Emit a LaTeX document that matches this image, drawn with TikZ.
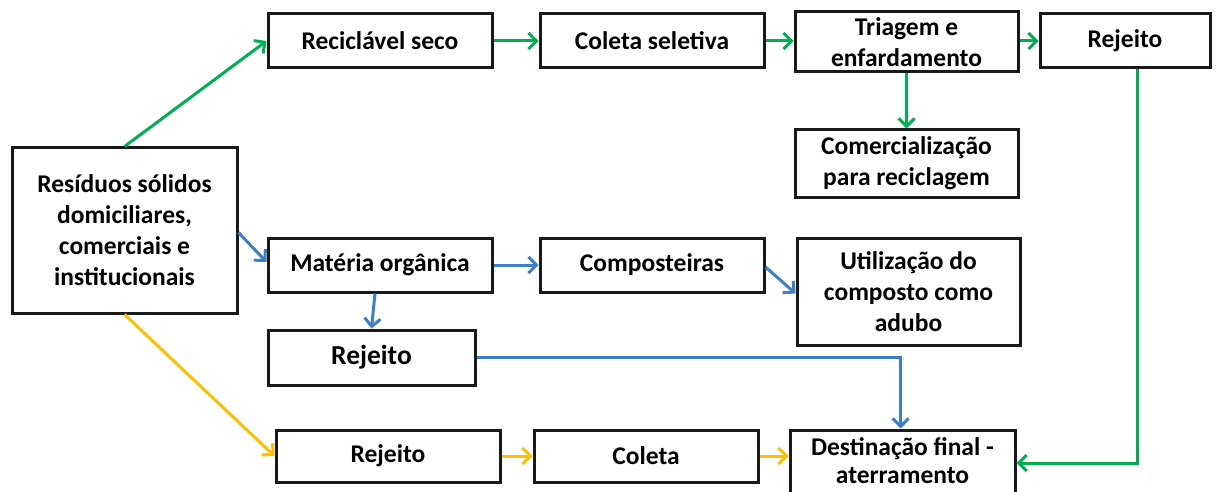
\documentclass[tikz,border=0pt]{standalone}
\usepackage{fontspec}
\setmainfont{Carlito}
\usetikzlibrary{arrows.meta,calc}
\definecolor{cgreen}{HTML}{00B050}
\definecolor{cblue}{HTML}{3F7FC6}
\definecolor{cyellow}{HTML}{FFC000}
\tikzset{
  box/.style={draw=black!90, line width=3pt, rectangle, inner sep=0pt, align=center,
    font=\fontsize{25.5}{31}\selectfont\bfseries, fill=white},
  flow/.style={line width=3pt, -{Straight Barb[length=8pt,width=16pt]}},
  gflow/.style={flow, cgreen},
  bflow/.style={flow, cblue},
  yflow/.style={flow, cyellow},
}
\begin{document}
\begin{tikzpicture}[x=1pt,y=-1pt]
\useasboundingbox (0,0) rectangle (1221,492);
% nodes
\node[box, minimum width=225, minimum height=165] (src) at (124.5,230.5) {Resíduos sólidos\\domiciliares,\\comerciais e\\institucionais};
\node[box, minimum width=224, minimum height=54] (rs) at (380,41) {Reciclável seco};
\node[box, minimum width=224, minimum height=54] (cs) at (652,41) {Coleta seletiva};
\node[box, minimum width=223, minimum height=60] (tr) at (906.5,42) {Triagem e\\enfardamento};
\node[box, minimum width=170, minimum height=54] (rj1) at (1125,41) {Rejeito};
\node[box, minimum width=223, minimum height=67] (cm) at (906.5,163.5) {Comercialização\\para reciclagem};
\node[box, minimum width=224, minimum height=54] (mo) at (380,265) {Matéria orgânica};
\node[box, minimum width=224, minimum height=54] (cp) at (652,265) {Composteiras};
\node[box, minimum width=223, minimum height=107] (ut) at (908.5,291.5) {Utilização do\\composto como\\adubo};
\node[box, minimum width=207, minimum height=55, font=\fontsize{27.5}{32}\selectfont\bfseries] (rj2) at (371.5,357.5) {Rejeito};
\node[box, minimum width=224, minimum height=52] (rj3) at (388,456) {Rejeito};
\node[box, minimum width=224, minimum height=52] (co) at (646,456) {Coleta};
\node[box, minimum width=225, minimum height=72, text depth=0pt] (df) at (902.5,466) {};
\node[font=\fontsize{25.5}{28}\selectfont\bfseries, align=center, inner sep=0pt, anchor=north] (dft) at ([yshift=-9pt]df.north) {Destinação final -\\aterramento};
% green flow
\draw[gflow] (src.north) -- (rs.west);
\draw[gflow] (rs.east) -- (cs.west);
\draw[gflow] (cs.east) -- (tr.west |- cs.east);
\draw[gflow] (tr.east |- rj1.west) -- (rj1.west);
\draw[gflow] (tr.south) -- (cm.north);
\draw[gflow] ([xshift=12pt]rj1.south) |- ([yshift=3pt]df.east);
% blue flow
\draw[bflow] ([yshift=-2pt]src.east) -- ([yshift=3pt]mo.west);
\draw[bflow] (mo.east) -- (cp.west);
\draw[bflow] ([yshift=-2pt]cp.east) -- ([yshift=-2pt]ut.west);
\draw[bflow] ([xshift=-5pt]mo.south) -- (rj2.north);
\draw[bflow] (rj2.east) -| ([xshift=-2pt]df.north);
% yellow flow
\draw[yflow] (src.south) -- (rj3.west);
\draw[yflow] (rj3.east) -- (co.west);
\draw[yflow] (co.east) -- (df.west |- co.east);
\end{tikzpicture}
\end{document}
